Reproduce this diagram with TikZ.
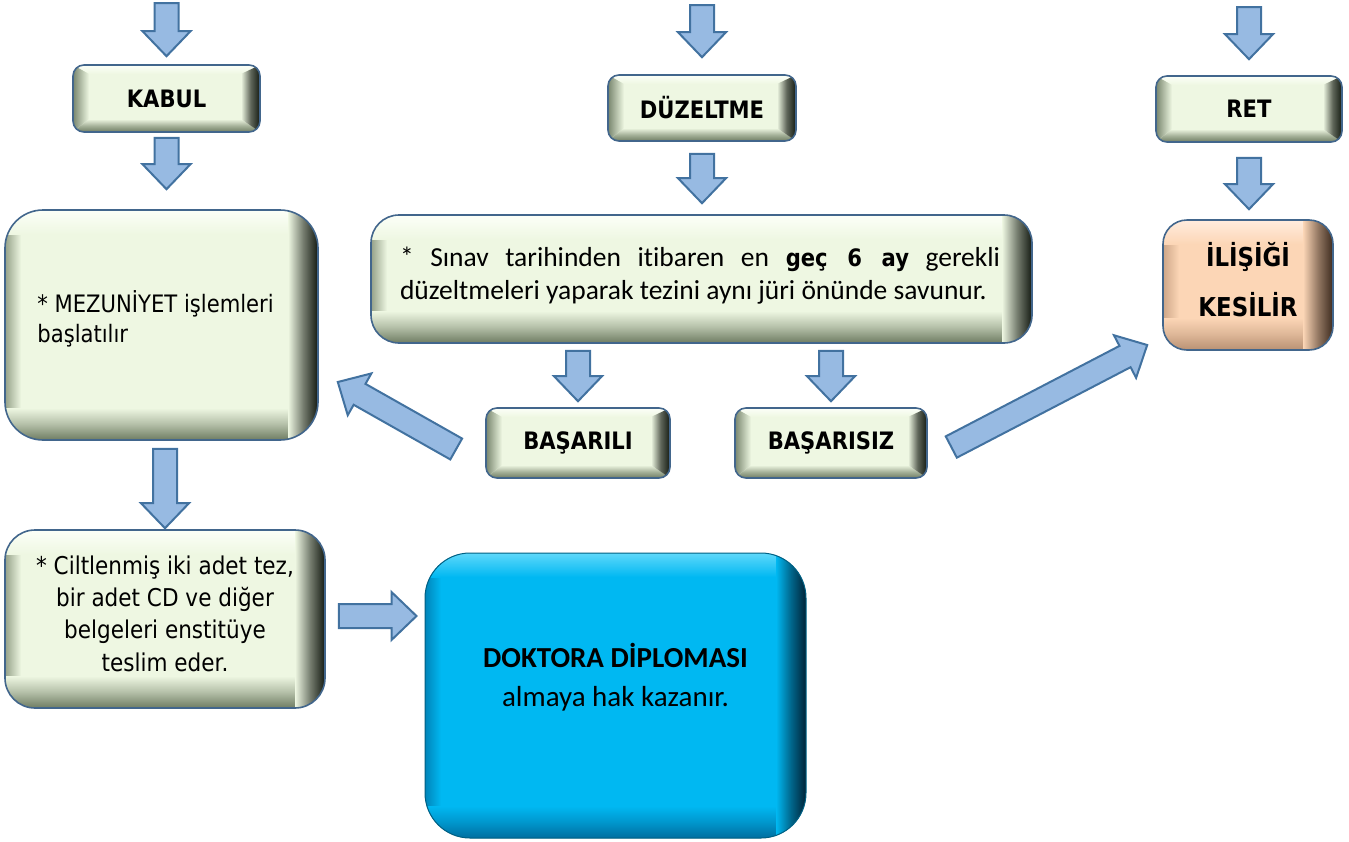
\documentclass[tikz,border=0pt]{standalone}
\usepackage{fontspec}
\setmainfont{DejaVu Sans}
\newfontfamily\tah{DejaVu Sans}[FakeStretch=0.88]
\newfontfamily\calib{Carlito}[Ligatures=NoCommon]
\usetikzlibrary{calc}
\definecolor{gbase}{RGB}{238,247,226}
\definecolor{gtop}{RGB}{252,255,248}
\definecolor{gdark}{RGB}{20,26,18}
\definecolor{gbot}{RGB}{110,124,98}
\definecolor{gleft}{RGB}{120,134,110}
\definecolor{boxborder}{RGB}{66,102,140}
\definecolor{arrfill}{RGB}{151,186,226}
\definecolor{arrline}{RGB}{66,114,160}
\definecolor{cyanbase}{RGB}{0,184,242}
\definecolor{cyandark}{RGB}{0,35,55}
\definecolor{cyanbot}{RGB}{0,110,160}
\definecolor{cyantop}{RGB}{95,216,250}
\definecolor{peach}{RGB}{252,214,182}
\definecolor{peachdark}{RGB}{60,42,30}
\definecolor{peachbot}{RGB}{185,145,115}
\definecolor{peachtop}{RGB}{255,236,222}
\tikzset{
  blockarr/.style={draw=arrline, line width=2pt, fill=arrfill, line join=miter},
  bevelbox/.style={draw=boxborder, line width=1.6pt, rounded corners=11pt, fill=gbase, inner sep=0pt,
    font=\tah\bfseries\fontsize{24}{28}\selectfont,
    path picture={
      \coordinate (q1) at (path picture bounding box.north west);
      \coordinate (q2) at (path picture bounding box.north east);
      \coordinate (q3) at (path picture bounding box.south east);
      \coordinate (q4) at (path picture bounding box.south west);
      \shade[sharp corners, top color=gtop, bottom color=gbase] (q1) -- (q2) -- ([xshift=-19pt,yshift=-9pt]q2) -- ([xshift=16pt,yshift=-9pt]q1) -- cycle;
      \shade[sharp corners, bottom color=gbot, top color=gbase, middle color=gbot!55!gbase] (q4) -- (q3) -- ([xshift=-19pt,yshift=13pt]q3) -- ([xshift=16pt,yshift=13pt]q4) -- cycle;
      \shade[sharp corners, left color=gleft, right color=gbase, middle color=gleft!50!gbase] (q1) -- ([xshift=16pt,yshift=-9pt]q1) -- ([xshift=16pt,yshift=13pt]q4) -- (q4) -- cycle;
      \shade[sharp corners, right color=gdark, left color=gbase, middle color=gdark!65!gbase] (q2) -- ([xshift=-19pt,yshift=-9pt]q2) -- ([xshift=-19pt,yshift=13pt]q3) -- (q3) -- cycle;
    }},
  softbox/.style n args={4}{draw=boxborder, line width=1.6pt, fill=#1, inner sep=0pt,
    path picture={
      \coordinate (q1) at (path picture bounding box.north west);
      \coordinate (q2) at (path picture bounding box.north east);
      \coordinate (q3) at (path picture bounding box.south east);
      \coordinate (q4) at (path picture bounding box.south west);
      \shade[sharp corners, left color=#3!70!#1, right color=#1] (q1) rectangle ([xshift=16pt]q4);
      \shade[sharp corners, top color=#4, bottom color=#1] (q1) rectangle ([yshift=-24pt]q2);
      \shade[sharp corners, top color=#1, bottom color=#3, middle color=#3!45!#1] ([yshift=32pt]q4) rectangle (q3);
      \shade[sharp corners, left color=#1, right color=#2, middle color=#1!45!#2] ([xshift=-30pt]q2) rectangle (q3);
    }}
}
\newcommand{\barrow}[4]{%
  \coordinate (bas) at ($(#1)!#3!(#2)$);
  \coordinate (bae) at ($(#2)!#4!(#1)$);
  \coordinate (bah) at ($(bae)!25pt!(bas)$);
  \draw[blockarr] ($(bas)!12pt!90:(bae)$) -- ($(bah)!12pt!90:(bae)$) -- ($(bah)!24pt!90:(bae)$) -- (bae)
    -- ($(bah)!24pt!-90:(bae)$) -- ($(bah)!12pt!-90:(bae)$) -- ($(bas)!12pt!-90:(bae)$) -- cycle;
}
\begin{document}
\begin{tikzpicture}[x=1pt,y=-1pt]
\fill[white] (0,0) rectangle (1349,841);
\useasboundingbox (0,0) rectangle (1349,841);

% boxes
\node[bevelbox, minimum width=187pt, minimum height=67pt] (kabul) at (166.5,98.5) {KABUL};
\node[bevelbox, minimum width=188pt, minimum height=66pt] (duzeltme) at (702,108) {DÜZELTME};
\node[bevelbox, minimum width=186pt, minimum height=66pt] (ret) at (1249,109) {RET};
\node[bevelbox, minimum width=184pt, minimum height=70pt] (basarili) at (578,443) {BAŞARILI};
\node[bevelbox, minimum width=192pt, minimum height=70pt] (basarisiz) at (831,443) {BAŞARISIZ};

\node[softbox={gbase}{gdark}{gbot}{gtop}, rounded corners=38pt, minimum width=313pt, minimum height=230pt] (mezun) at (161.5,325) {};
\node[softbox={gbase}{gdark}{gbot}{gtop}, rounded corners=28pt, minimum width=661pt, minimum height=128pt] (sinav) at (701.5,279) {};
\node[softbox={peach}{peachdark}{peachbot}{peachtop}, rounded corners=24pt, minimum width=170pt, minimum height=130pt] (ilisigi) at (1248,285) {};
\node[softbox={gbase}{gdark}{gbot}{gtop}, rounded corners=30pt, minimum width=320pt, minimum height=178pt] (cilt) at (165,619) {};
\node[softbox={cyanbase}{cyandark}{cyanbot}{cyantop}, draw=cyandark!60!cyanbase, line width=1pt, rounded corners=45pt, minimum width=381pt, minimum height=285pt] (doktora) at (615.5,695.5) {};

% texts
\node[font=\tah\fontsize{24}{30}\selectfont, align=left, anchor=west, inner sep=0pt] (mezuntext) at ([xshift=33pt,yshift=6pt]mezun.west) {* MEZUNİYET işlemleri\\başlatılır};
\node[font=\tah\fontsize{24.5}{32.3}\selectfont, align=center, inner sep=0pt] (ciltext) at ([yshift=5.5pt]cilt.center) {* Ciltlenmiş iki adet tez,\\bir adet CD ve diğer\\belgeleri enstitüye\\teslim eder.};
\node[font=\calib\fontsize{27.5}{33}\selectfont, align=left, inner sep=0pt] (sinavtext) at ([yshift=3pt,xshift=-1.5pt]sinav.center) {\makebox[600pt][s]{* Sınav tarihinden itibaren en {\tah\bfseries\fontsize{24}{33}\selectfont geç 6 ay} gerekli}\\düzeltmeleri yaparak tezini aynı jüri önünde savunur.};
\node[font=\tah\bfseries\fontsize{26}{50}\selectfont, align=center, inner sep=0pt] (ilitext) at ([yshift=5pt]ilisigi.center) {İLİŞİĞİ\\KESİLİR};
\node[font=\calib\fontsize{29}{39}\selectfont, align=center, inner sep=0pt] (doktext) at ([yshift=18pt]doktora.center) {\textbf{DOKTORA DİPLOMASI}\\almaya hak kazanır.};

% arrows
\coordinate (kin) at (kabul.north |- 0,3);
\barrow{kin}{kabul.north}{0pt}{8pt}
\coordinate (mzn) at (kabul.south |- mezun.north);
\barrow{kabul.south}{mzn}{5pt}{20pt}
\coordinate (mzs) at (cilt.north |- mezun.south);
\barrow{mzs}{cilt.north}{8pt}{1pt}
\coordinate (ce) at ([yshift=3pt]cilt.east);
\coordinate (dw) at (doktora.west |- ce);
\barrow{ce}{dw}{13pt}{8pt}
\coordinate (din) at (duzeltme.north |- 0,5);
\barrow{din}{duzeltme.north}{0pt}{17pt}
\coordinate (sn) at (duzeltme.south |- sinav.north);
\barrow{duzeltme.south}{sn}{12pt}{11pt}
\coordinate (sb1) at (basarili.north |- sinav.south);
\barrow{sb1}{basarili.north}{7pt}{6pt}
\coordinate (sb2) at (basarisiz.north |- sinav.south);
\barrow{sb2}{basarisiz.north}{7pt}{6pt}
\coordinate (d1s) at ([xshift=-29pt,yshift=-6pt]basarili.west);
\coordinate (d1e) at ([xshift=19pt,yshift=-57pt]mezun.east);
\barrow{d1s}{d1e}{0pt}{0pt}
\coordinate (d2s) at ([xshift=23.5pt,yshift=-4pt]basarisiz.east);
\coordinate (d2e) at ([xshift=-15pt,yshift=-60pt]ilisigi.west);
\barrow{d2s}{d2e}{0pt}{0pt}
\coordinate (rin) at (ret.north |- 0,7);
\barrow{rin}{ret.north}{0pt}{16pt}
\coordinate (rn) at (ret.south |- ilisigi.north);
\barrow{ret.south}{rn}{15pt}{10pt}
\end{tikzpicture}
\end{document}
